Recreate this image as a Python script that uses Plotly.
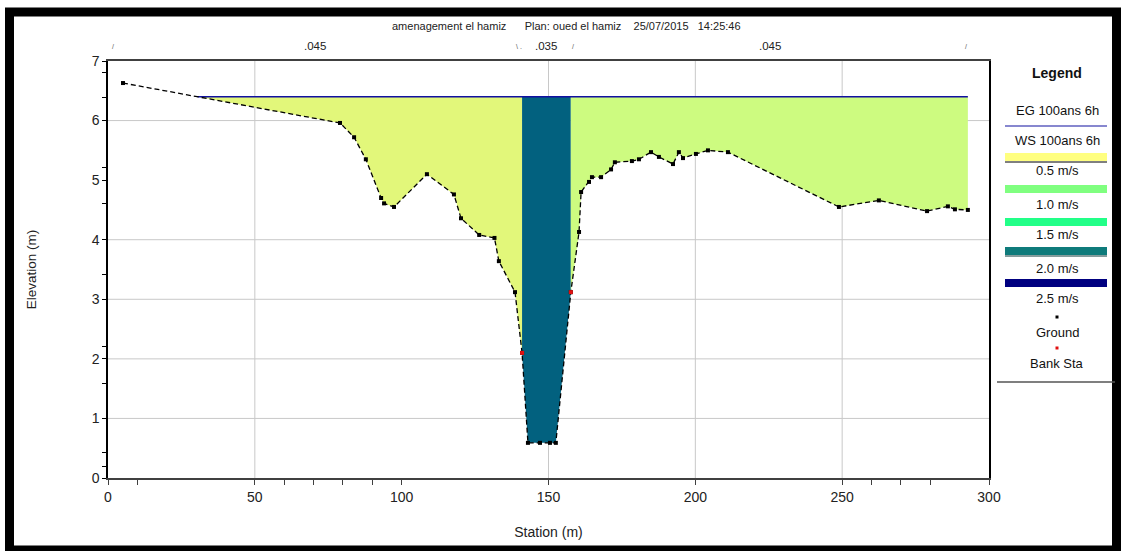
import numpy as np
import plotly.graph_objects as go

# Cross-section ground profile (station m, elevation m)
STATION = [5.1, 79.0, 83.8, 87.8, 93.0, 94.0, 97.4, 108.6, 117.8, 120.2, 126.4, 131.6,
           133.1, 138.6, 141.0, 143.0, 147.1, 150.5, 152.5, 157.6, 160.4, 161.1, 163.8,
           164.8, 167.9, 171.3, 172.6, 178.4, 180.8, 184.9, 187.6, 192.4, 194.4, 195.8,
           200.2, 204.3, 211.1, 248.9, 262.5, 278.9, 286.0, 288.4, 292.8]
ELEV = [6.63, 5.96, 5.72, 5.35, 4.70, 4.61, 4.55, 5.10, 4.76, 4.36, 4.08, 4.03,
        3.64, 3.12, 2.10, 0.59, 0.59, 0.59, 0.59, 3.12, 4.13, 4.80, 4.97,
        5.05, 5.05, 5.18, 5.30, 5.32, 5.35, 5.47, 5.39, 5.27, 5.47, 5.37,
        5.44, 5.50, 5.47, 4.55, 4.66, 4.48, 4.56, 4.51, 4.50]
BANK_STA = [141.0, 157.6]
BANK_ELEV = [2.10, 3.12]
WS_ELEV = 6.40

# Manning's n per reach of the section
N_VALUES = [".045", ".035", ".045"]
N_LABEL_STA = [70.5, 149.1, 225.4]
N_BREAK_STA = [1.7, 140.0, 158.5, 292.0]
N_BREAK_MARK = ["/", "\\ .", "/", "/"]

# Velocity classes of the legend
VEL_LABELS = ["0.5 m/s", "1.0 m/s", "1.5 m/s", "2.0 m/s", "2.5 m/s"]
VEL_COLORS = ["#ffff80", "#80ff80", "#22ff88", "#0e7b7b", "#000080"]

# Fill colours of the flow areas
LOB_COLOR = "#e2f77a"
CH_COLOR = "#02617f"
ROB_COLOR = "#cdfb80"

X_TICKS = [0, 50, 100, 150, 200, 250, 300]
X_MINOR = [10, 60, 70, 80, 90, 260, 270, 280]
X_GRID = [50, 150, 200, 250]
Y_TICKS = [0, 1, 2, 3, 4, 5, 6, 7]
Y_MINOR = [0.20, 0.42, 1.59, 2.21, 3.41, 4.60, 5.22, 6.39, 6.80]
Y_GRID = [1, 2, 3, 4, 6]

TITLE = "amenagement el hamiz      Plan: oued el hamiz    25/07/2015   14:25:46"
FONT = "Liberation Sans, Arial, sans-serif"

st = np.array(STATION)
el = np.array(ELEV)
lb, rb = BANK_STA
ws = WS_ELEV

# left water edge: where the ground first drops below the water surface
i = int(np.argmax(el < ws))
x_edge = float(np.interp(ws, [el[i], el[i - 1]], [st[i], st[i - 1]]))


def flow_area(lo, hi):
    m = (st >= lo) & (st <= hi)
    xs = [lo] + list(st[m]) + [hi]
    ys = [ws] + list(el[m]) + [ws]
    return xs, ys


fig = go.Figure()
for (lo, hi), col in [((x_edge, lb), LOB_COLOR), ((lb, rb), CH_COLOR), ((rb, st[-1]), ROB_COLOR)]:
    xs, ys = flow_area(lo, hi)
    fig.add_trace(go.Scatter(x=xs, y=ys, fill="toself", fillcolor=col, mode="lines",
                             line=dict(width=0), hoverinfo="skip", showlegend=False))

# water surface
fig.add_trace(go.Scatter(x=[x_edge, st[-1]], y=[ws, ws], mode="lines",
                         line=dict(color="#1010a0", width=1.5), showlegend=False))
# ground
fig.add_trace(go.Scatter(x=st, y=el, mode="lines+markers",
                         line=dict(color="black", width=1.3, dash="5px,3px"),
                         marker=dict(symbol="square", size=4, color="black"),
                         showlegend=False))
# bank stations
fig.add_trace(go.Scatter(x=BANK_STA, y=BANK_ELEV, mode="markers",
                         marker=dict(symbol="square", size=4, color="#e01010"),
                         showlegend=False))

shapes = []
for gx in X_GRID:
    shapes.append(dict(type="line", xref="x", yref="paper", x0=gx, x1=gx, y0=0, y1=1,
                       line=dict(color="#c8c8c8", width=1), layer="below"))
for gy in Y_GRID:
    shapes.append(dict(type="line", xref="paper", yref="y", x0=0, x1=1, y0=gy, y1=gy,
                       line=dict(color="#c8c8c8", width=1), layer="below"))

# page coordinates -> paper coordinates
L, T, PW, PH = 108, 61, 881, 417


def px(xp):
    return (xp - L) / PW


def py(yp):
    return (T + PH - yp) / PH


# outer frame
shapes.append(dict(type="rect", xref="paper", yref="paper",
                   x0=px(9.5), x1=px(1116.5), y0=py(550), y1=py(12),
                   line=dict(color="black", width=9)))

annotations = [
    dict(text=TITLE, xref="paper", yref="paper", x=px(566), y=py(26), showarrow=False,
         xanchor="center", yanchor="middle",
         font=dict(family=FONT, size=11, color="#222")),
]
for s, t in zip(N_LABEL_STA, N_VALUES):
    annotations.append(dict(text=t, xref="x", yref="paper", x=s, y=py(46), showarrow=False,
                            xanchor="center", yanchor="middle",
                            font=dict(family=FONT, size=11.5, color="#222")))
for s, t in zip(N_BREAK_STA, N_BREAK_MARK):
    annotations.append(dict(text=t, xref="x", yref="paper", x=s, y=py(47), showarrow=False,
                            xanchor="center", yanchor="middle",
                            font=dict(family=FONT, size=7, color="#555")))

# legend panel
LX = px(1057)
BX0, BX1 = px(1005), px(1107)


def legend_text(txt, ypix, size=13, bold=False):
    annotations.append(dict(text=f"<b>{txt}</b>" if bold else txt, xref="paper", yref="paper",
                            x=LX, y=py(ypix), showarrow=False,
                            xanchor="center", yanchor="middle",
                            font=dict(family=FONT, size=size, color="#111")))


legend_text("Legend", 73, size=14, bold=True)
legend_text("EG 100ans 6h", 110)
shapes.append(dict(type="line", xref="paper", yref="paper", x0=BX0, x1=BX1,
                   y0=py(126), y1=py(126), line=dict(color="#1010a0", width=1.2)))
legend_text("WS 100ans 6h", 140)

bar_tops = [153, 185, 218, 247, 279]
text_y = [170, 204, 234, 268, 298]
for top, ty, lab, col in zip(bar_tops, text_y, VEL_LABELS, VEL_COLORS):
    shapes.append(dict(type="rect", xref="paper", yref="paper", x0=BX0, x1=BX1,
                       y0=py(top + 8), y1=py(top), line=dict(width=0), fillcolor=col))
    legend_text(lab, ty)
shapes.append(dict(type="line", xref="paper", yref="paper", x0=BX0, x1=BX1,
                   y0=py(162), y1=py(162), line=dict(color="black", width=1)))
shapes.append(dict(type="line", xref="paper", yref="paper", x0=BX0, x1=BX1,
                   y0=py(256), y1=py(256), line=dict(color="#0a3a3a", width=1)))

for ypix, col in [(317, "black"), (348, "#e01010")]:
    shapes.append(dict(type="rect", xref="paper", yref="paper",
                       x0=px(1055.5), x1=px(1058.5), y0=py(ypix + 1.5), y1=py(ypix - 1.5),
                       line=dict(width=0), fillcolor=col))
legend_text("Ground", 332)
legend_text("Bank Sta", 363)
shapes.append(dict(type="line", xref="paper", yref="paper", x0=px(997), x1=px(1115),
                   y0=py(382), y1=py(382), line=dict(color="#555", width=1.5)))

fig.update_layout(
    width=1121, height=551, autosize=False,
    margin=dict(l=L, r=1121 - L - PW, t=T, b=551 - T - PH),
    plot_bgcolor="white", paper_bgcolor="white",
    font=dict(family=FONT, color="#222"),
    shapes=shapes, annotations=annotations,
    xaxis=dict(range=[0, 300], tickvals=X_TICKS, ticks="outside", ticklen=5,
               tickcolor="#404040", showline=True, linecolor="#404040", linewidth=1.5,
               mirror=True, showgrid=False, zeroline=False,
               tickfont=dict(size=14, color="#222"),
               minor=dict(tickvals=X_MINOR, ticks="outside", ticklen=5, tickcolor="#404040",
                          showgrid=False),
               title=dict(text="Station (m)", font=dict(size=14, color="#222"), standoff=24)),
    yaxis=dict(range=[0, 7], tickvals=Y_TICKS, ticks="outside", ticklen=4,
               tickcolor="black", showline=True, linecolor="black", linewidth=1.5,
               mirror=True, showgrid=False, zeroline=False,
               tickfont=dict(size=14, color="#222"),
               minor=dict(tickvals=Y_MINOR, ticks="outside", ticklen=4, tickcolor="black",
                          showgrid=False),
               title=dict(text="Elevation (m)", font=dict(size=13.5, color="#222"), standoff=52)),
)

fig.write_html("out.html")
